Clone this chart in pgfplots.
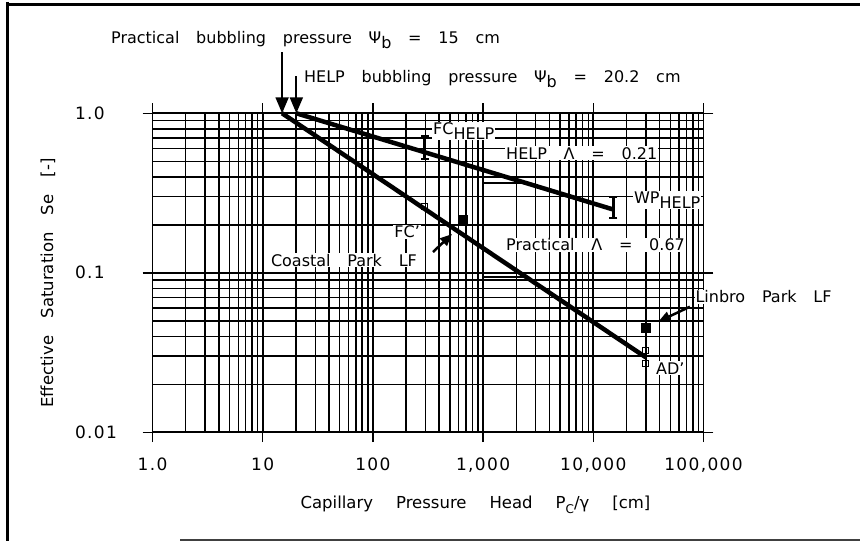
\documentclass[border=0pt]{standalone}
\usepackage{pgfplots}
\pgfplotsset{compat=1.18}
\usepackage{fontspec}
\setmainfont{DejaVu Sans}[WordSpace=3.3]
\newfontfamily\tickfont{DejaVu Sans}[LetterSpace=8]
\usetikzlibrary{arrows.meta}
\newcommand\lab{\fontsize{16bp}{19bp}\selectfont}
\newcommand\sub[1]{\raisebox{-0.3em}{#1}}
\newcommand\gap{\hspace{23bp}}
\begin{document}
\begin{tikzpicture}[font=\lab]
\useasboundingbox (-152.5bp,-108.7bp) rectangle (707.5bp,432.3bp);
% outer frame
\draw[line width=3bp] (-144.5bp,430.3bp) -- (-144.5bp,-108.7bp);
\draw[line width=3bp] (-146bp,427.3bp) -- (707.5bp,427.3bp);
\draw[line width=2bp, black!75] (27.5bp,-107.2bp) -- (707.5bp,-107.2bp);
\begin{axis}[
  at={(0,0)}, anchor=south west,
  xmode=log, ymode=log,
  scale only axis, width=551bp, height=319bp,
  xmin=1, xmax=100000, ymin=0.01, ymax=1,
  clip=false,
  grid=both,
  major grid style={black, line width=1.7bp},
  minor grid style={black, line width=1.5bp},
  axis line style={black, line width=1.7bp},
  tick align=outside,
  major tick length=10bp,
  minor tick length=0bp,
  tick style={black, line width=1.4bp},
  xtick={1,10,100,1000,10000,100000},
  xticklabels={1.0,10,100,{1,000},{10,000},{100,000}},
  minor xtick={2,3,4,5,6,7,8,9,20,30,40,50,60,70,80,90,200,300,400,500,600,700,800,900,2000,3000,4000,5000,6000,7000,8000,9000,20000,30000,40000,50000,60000,70000,80000,90000},
  ytick={0.01,0.1,1},
  yticklabels={0.01,0.1,1.0},
  minor ytick={0.02,0.03,0.04,0.05,0.06,0.07,0.08,0.09,0.2,0.3,0.4,0.5,0.6,0.7,0.8,0.9},
  tick label style={font=\tickfont\fontsize{17bp}{20bp}\selectfont},
  xticklabel style={yshift=-12bp},
  yticklabel style={anchor=west, xshift=-71bp},
  xlabel={Capillary\gap Pressure\gap Head\gap P\sub{\fontsize{12bp}{14bp}\selectfont C}/γ\gap[cm]},
  ylabel={Effective Saturation Se [-]},
  xlabel style={at={(axis description cs:0.5862,0)}, anchor=center, yshift=-72.7bp, font=\fontsize{16.5bp}{19bp}\selectfont},
  ylabel style={at={(axis description cs:-0.1897,0.468)}, anchor=center, font=\fontsize{16.5bp}{19bp}\selectfont},
]
% model lines
\addplot[black, line width=4.5bp] coordinates {(15,1.0) (30000,0.0295)};
\addplot[black, line width=4.5bp] coordinates {(20.2,1.0) (15000,0.25)};
% slope triangles
\addplot[black, line width=2bp] coordinates {(1000,0.441) (1000,0.366) (2438,0.366)};
\addplot[black, line width=2bp] coordinates {(1000,0.1428) (1000,0.0945) (2434,0.0945)};
% FC_HELP and WP_HELP bars
\addplot[black, line width=3bp, mark=-, mark size=4bp, mark options={line width=2bp}] coordinates {(297,0.721) (297,0.515)};
\addplot[black, line width=3bp, mark=-, mark size=4bp, mark options={line width=2bp}] coordinates {(15200,0.300) (15200,0.220)};
% landfill measurements (filled)
\addplot[only marks, mark=square*, mark size=4.5bp, mark options={fill=black, draw=black}] coordinates {(657,0.214) (30100,0.0455)};
% FC' and AD' (open)
\addplot[only marks, mark=square, mark size=3bp, mark options={fill=white, draw=black, line width=1bp}] coordinates {(297,0.259) (30000,0.0327) (30000,0.0269)};
% arrows
\draw[line width=2bp, -{Triangle[width=13bp,length=16bp]}] (axis cs:15,2.42) -- (axis cs:15,1.0);
\draw[line width=2bp, -{Triangle[width=13bp,length=16bp]}] (axis cs:20.2,1.71) -- (axis cs:20.2,1.0);
\draw[line width=2.5bp, -{Triangle[width=10bp,length=12bp]}] (axis cs:351,0.135) -- (axis cs:522,0.175);
\draw[line width=2.5bp, -{Triangle[width=10bp,length=12bp]}] (axis cs:75300,0.0613) -- (axis cs:38900,0.0494);
% labels
\node[anchor=west, inner sep=1bp] at (axis cs:0.411,2.88) {Practical bubbling pressure Ψ\sub{b} = 15 cm};
\node[anchor=west, inner sep=1bp] at (axis cs:23.2,1.64) {HELP bubbling pressure Ψ\sub{b} = 20.2 cm};
\node[anchor=west, inner sep=1bp, fill=white] at (axis cs:344,0.774) {FC\sub{HELP}};
\node[anchor=west, inner sep=1bp, fill=white] at (axis cs:1581,0.561) {HELP Λ = 0.21};
\node[anchor=west, inner sep=1bp, fill=white] at (axis cs:22900,0.285) {WP\sub{HELP}};
\node[anchor=west, inner sep=1bp, fill=white] at (axis cs:153,0.181) {FC'};
\node[anchor=west, inner sep=1bp, fill=white] at (axis cs:11.6,0.120) {Coastal Park LF};
\node[anchor=west, inner sep=1bp, fill=white] at (axis cs:1581,0.1494) {Practical Λ = 0.67};
\node[anchor=west, inner sep=1bp, fill=white] at (axis cs:82600,0.0708) {Linbro Park LF};
\node[anchor=west, inner sep=1bp, fill=white] at (axis cs:36300,0.0252) {AD'};
\end{axis}
\end{tikzpicture}
\end{document}
